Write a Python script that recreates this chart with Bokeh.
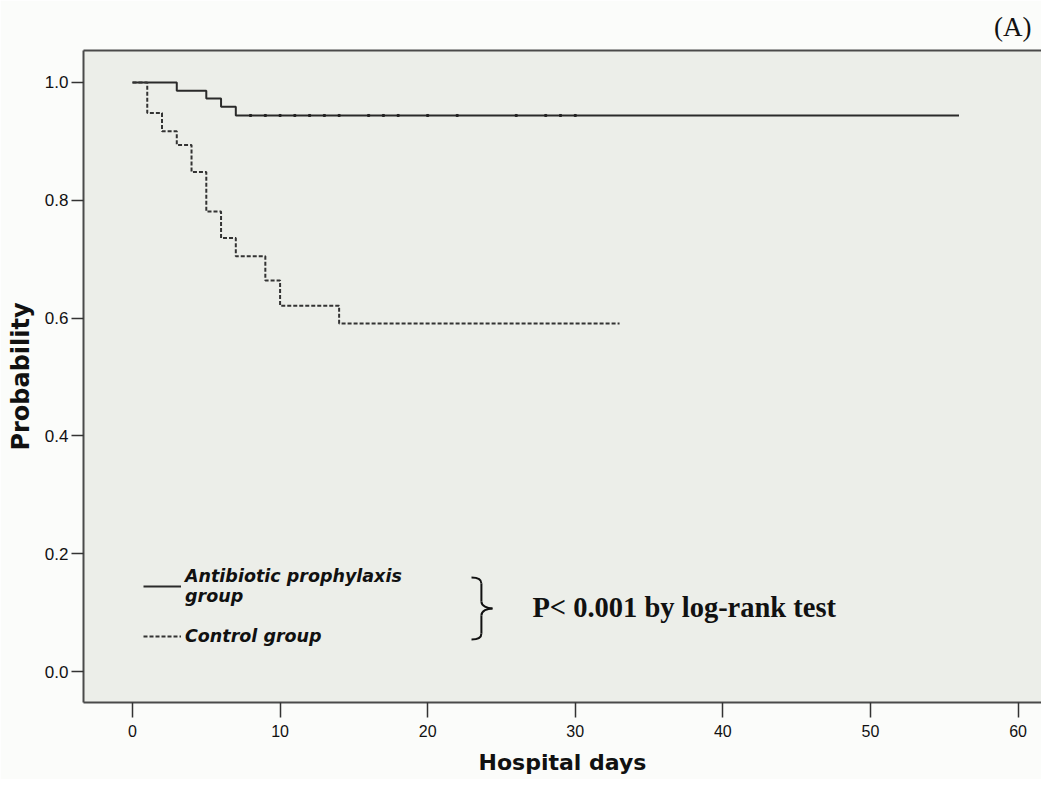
from bokeh.plotting import figure
from bokeh.models import (Range1d, FixedTicker, PrintfTickFormatter, LinearAxis,
                          Legend, LegendItem, Label, Title)
from bokeh.embed import file_html
from bokeh.resources import INLINE

# ---- data ----
abx_days = [0, 3, 5, 6, 7, 56]
abx_surv = [1.0, 0.986, 0.973, 0.959, 0.944, 0.944]
abx_censor_days = [8, 9, 10, 11, 12, 13, 14, 16, 17, 18, 20, 22, 26, 28, 29, 30]

ctl_days = [0, 1, 2, 3, 4, 5, 6, 7, 9, 10, 14, 33]
ctl_surv = [1.0, 0.948, 0.917, 0.894, 0.848, 0.781, 0.736, 0.705, 0.664, 0.621, 0.591, 0.591]

x_ticks = [0, 10, 20, 30, 40, 50, 60]
y_ticks = [0.0, 0.2, 0.4, 0.6, 0.8, 1.0]

legend_labels = ["Antibiotic prophylaxis\ngroup", "Control group"]
p_text = "P< 0.001 by log-rank test"
panel_tag = "(A)"

p = figure(width=1041, height=779, output_backend="svg", toolbar_location=None,
           x_range=Range1d(-3.32, 61.59), y_range=Range1d(-0.0526, 1.0543),
           background_fill_color="#eceee9", border_fill_color="#fbfcfa",
           min_border_left=83, min_border_right=0, min_border_top=50,
           min_border_bottom=77, outline_line_color=None)
p.xgrid.visible = False
p.ygrid.visible = False

# axes
for ax in (p.xaxis[0], p.yaxis[0]):
    ax.axis_line_color = "#4a4a4a"
    ax.axis_line_width = 2
    ax.major_tick_line_color = "#333333"
    ax.major_tick_line_width = 1.5
    ax.major_tick_in = 0
    ax.minor_tick_out = 0
    ax.minor_tick_in = 0
    ax.major_label_text_font = "Liberation Sans"
    ax.major_label_text_color = "#111111"
    ax.axis_label_text_font = "DejaVu Sans"
    ax.axis_label_text_font_style = "bold"
    ax.axis_label_text_color = "#111111"

p.yaxis[0].ticker = FixedTicker(ticks=y_ticks)
p.yaxis[0].formatter = PrintfTickFormatter(format="%.1f")
p.yaxis[0].major_tick_out = 12
p.yaxis[0].major_label_standoff = 3
p.yaxis[0].major_label_text_font_size = "17px"
p.yaxis[0].axis_label = "Probability"
p.yaxis[0].axis_label_text_font_size = "24px"
p.yaxis[0].axis_label_standoff = 7

p.xaxis[0].ticker = FixedTicker(ticks=x_ticks)
p.xaxis[0].major_tick_out = 15
p.xaxis[0].major_label_standoff = 7
p.xaxis[0].major_label_text_font_size = "16px"
p.xaxis[0].axis_label = "Hospital days"
p.xaxis[0].axis_label_text_font_size = "22px"
p.xaxis[0].axis_label_standoff = 10

top_axis = LinearAxis(ticker=FixedTicker(ticks=[]), axis_line_color="#4a4a4a",
                      axis_line_width=2, major_label_text_font_size="0px",
                      major_tick_out=0, minor_tick_out=0)
p.add_layout(top_axis, "above")

p.add_layout(Title(text=panel_tag, align="right", text_font="Liberation Serif",
                   text_font_size="27px", text_font_style="normal",
                   text_color="#111111", offset=10, standoff=18), "above")

# survival curves
r_abx = p.step(abx_days, abx_surv, mode="after", line_color="#2a2a2a", line_width=2)
r_ctl = p.step(ctl_days, ctl_surv, mode="after", line_color="#333333", line_width=2,
               line_dash="4 2")
p.scatter(abx_censor_days, [abx_surv[-1]] * len(abx_censor_days), marker="square",
          size=2, color="#222222")

legend = Legend(items=[LegendItem(label=legend_labels[0], renderers=[r_abx]),
                       LegendItem(label=legend_labels[1], renderers=[r_ctl])],
                location=(60, 56), label_text_font="DejaVu Sans",
                label_text_font_style="bold italic", label_text_font_size="17.5px",
                label_text_color="#111111", glyph_width=38, label_standoff=4,
                spacing=20, padding=0, margin=0, border_line_color=None,
                background_fill_alpha=0)
p.add_layout(legend)

# brace (annotation)
bx0, bx1, bx2 = 22.97, 23.64, 24.39
by_top, by_mid, by_bot = 0.1596, 0.1070, 0.0543
dy_curve = 0.0102
p.bezier(x0=[bx0, bx1, bx2, bx1], y0=[by_top, by_mid + 0.0118, by_mid, by_bot + dy_curve],
         x1=[bx1, bx2, bx1, bx0], y1=[by_top - dy_curve, by_mid, by_mid - 0.0118, by_bot],
         cx0=[bx0 + 0.45, bx1, bx2 - 0.35, bx1], cy0=[by_top, by_mid + 0.004, by_mid, by_bot + 0.004],
         cx1=[bx1, bx2 - 0.35, bx1, bx0 + 0.45], cy1=[by_top - 0.004, by_mid, by_mid - 0.004, by_bot],
         line_color="#111111", line_width=2)
p.segment(x0=[bx1, bx1], y0=[by_top - dy_curve, by_mid - 0.0118],
          x1=[bx1, bx1], y1=[by_mid + 0.0118, by_bot + dy_curve],
          line_color="#111111", line_width=2)

p.add_layout(Label(x=27.1, y=0.1087, text=p_text, text_font="Liberation Serif",
                   text_font_style="bold", text_font_size="28.5px", text_color="#111111",
                   text_baseline="alphabetic"))

open("out.html", "w").write(file_html(p, INLINE))
